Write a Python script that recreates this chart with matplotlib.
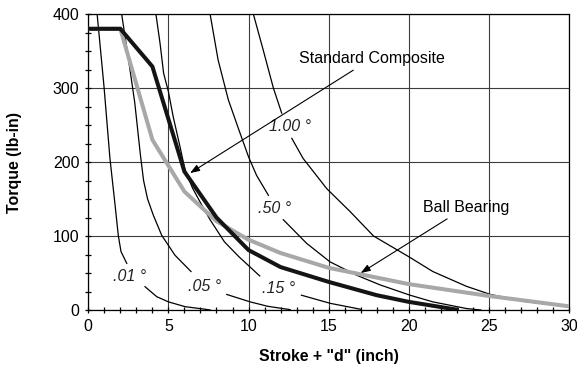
import numpy as np
from matplotlib import pyplot as plt
from matplotlib.ticker import MultipleLocator

plt.rcParams['font.family'] = ['Liberation Sans', 'DejaVu Sans']

nan = np.nan

# Standard Composite (thick black) and Ball Bearing (thick gray)
std_x = [0, 2, 4, 6, 8, 10, 12, 15, 18, 20, 22, 23]
std_y = [380, 380, 329, 187, 125, 81, 58, 38, 20, 11, 4, 0.5]

ball_x = [0, 2, 4, 6, 8, 10, 12, 15, 20, 25, 30]
ball_y = [380, 380, 230, 160, 120, 95, 77, 57, 35, 19, 5]

# constant-angle curves (NaN = gap left for the label)
c01_x = [0.55, 0.98, 1.35, 1.67, 1.87, 2.04, 2.4, nan, 3.54, 4.27, 5.0, 6.04, 7.3, 7.6]
c01_y = [400, 302, 205, 142, 101, 79, 63, nan, 31.5, 18, 11, 4.5, 1, 0]

c05_x = [2.08, 2.5, 2.9, 3.25, 3.45, 3.7, 4.06, 4.58, 5.41, 6.41, nan, 8.64, 10.1, 11.2, 12.6]
c05_y = [400, 340, 280, 210, 175, 150, 128, 101, 74, 52, nan, 21, 11, 5, 0.5]

c15_x = [4.22, 4.48, 4.7, 5.0, 5.3, 5.72, 6.04, 6.5, 7.0, 7.6, 8.5, 9.4, 10.1, 10.7, nan, 13.3, 15.1, 17.0]
c15_y = [400, 360, 320, 295, 261, 221, 189, 165, 145, 122, 92, 72, 58, 46, nan, 20, 9, 1]

c50_x = [7.6, 8.1, 8.74, 9.47, 10.0, 10.5, 11.24, nan, 12.17, 13.63, 15.09, 16.75, 18.2, 20.08, 21.5, 23.6, 24.5]
c50_y = [400, 338, 284, 239, 207, 182, 155, nan, 122, 90, 65, 47, 34, 20, 11, 2, 0]

c100_x = [10.3, 10.92, 11.55, 12.07, nan, 12.7, 13.4, 14.88, 16.34, 17.8, 20.0, 21.5, 23.6, 25.1, 27.4, 30]
c100_y = [400, 351, 300, 266, nan, 232, 205, 164, 133, 100, 72, 52, 32, 21, 11, 4.5]

angle_labels = [".01 °", ".05 °", ".15 °", ".50 °", "1.00 °"]
label_x = [2.6, 7.28, 11.9, 11.65, 12.6]
label_y = [45, 31.5, 29, 137, 248]

fig = plt.figure(figsize=(5.77, 3.72), dpi=100)
ax = fig.add_axes([88.3 / 577, 1 - 310 / 372, (569 - 88.3) / 577, (310 - 14) / 372])

for cx, cy in [(c01_x, c01_y), (c05_x, c05_y), (c15_x, c15_y), (c50_x, c50_y), (c100_x, c100_y)]:
    ax.plot(cx, cy, color='black', lw=0.9, zorder=3)

ax.plot(ball_x, ball_y, color='#a8a8a8', lw=2.9, zorder=4, solid_joinstyle='round')
ax.plot(std_x, std_y, color='#141414', lw=2.9, zorder=5, solid_joinstyle='miter')

for t, lx, ly in zip(angle_labels, label_x, label_y):
    ax.text(lx, ly, t, fontsize=11.5, style='italic', ha='center', va='center', color='#222222')

arrow = dict(arrowstyle='-|>,head_length=0.5,head_width=0.18', lw=0.8, color='black',
             shrinkA=2, shrinkB=0)
ax.annotate("Standard Composite", xy=(6.35, 185), xytext=(13.15, 340),
            fontsize=11.5, ha='left', va='center', arrowprops=arrow, zorder=6)
ax.annotate("Ball Bearing", xy=(17.0, 50), xytext=(20.87, 139),
            fontsize=11.5, ha='left', va='center', arrowprops=arrow, zorder=6)

ax.set_xlim(0, 30)
ax.set_ylim(0, 400)
ax.xaxis.set_major_locator(MultipleLocator(5))
ax.xaxis.set_minor_locator(MultipleLocator(1))
ax.yaxis.set_major_locator(MultipleLocator(100))
ax.yaxis.set_minor_locator(MultipleLocator(25))
ax.tick_params(which='both', direction='inout', length=5, width=0.9, labelsize=11.5, pad=4)
ax.tick_params(top=False, right=False)
ax.grid(True, which='major', color='#3c3c3c', lw=0.8)
ax.set_axisbelow(True)
for s in ax.spines.values():
    s.set_linewidth(0.9)

ax.set_xlabel('Stroke + "d" (inch)', fontsize=11.4, fontweight='bold', labelpad=11)
ax.set_ylabel('Torque (lb-in)', fontsize=11.4, fontweight='bold', labelpad=22)

fig.savefig('out.png', dpi=100)
